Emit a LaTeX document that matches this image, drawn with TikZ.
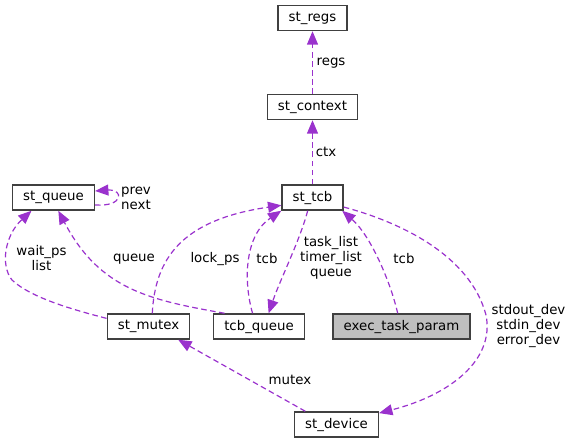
\documentclass[tikz,border=0pt]{standalone}
\usepackage{fontspec}
\setmainfont{DejaVu Sans}
\usepackage{xcolor}
\usetikzlibrary{positioning,arrows.meta}
\definecolor{depcol}{HTML}{9A32CD}
\definecolor{boxline}{HTML}{404040}
\definecolor{boxgray}{HTML}{BFBFBF}
\begin{document}
\begin{tikzpicture}[
  x=0.75pt, y=-0.75pt,
  font=\fontsize{10}{11.25}\selectfont,
  classnode/.style={draw=boxline,line width=1.1pt,fill=white,rectangle,inner xsep=7.9pt,inner ysep=0pt,minimum height=18.75pt},
  dep/.style={draw=depcol,line width=0.9pt,dash pattern=on 4.2pt off 2.6pt,-{Triangle[length=10pt,width=8.2pt]}},
  edgelabel/.style={align=center,inner sep=0pt}
    ]
\useasboundingbox (0,0) rectangle (571,444);

\node[classnode] (regs) at (312.5,18) {st\_regs};
\node[classnode] (context) at (312.5,107) {st\_context};
\node[classnode] (tcb) at (312.5,197.5) {st\_tcb};
\node[classnode] (queue) at (53.5,197.5) {st\_queue};
\node[classnode] (mutex) at (148.5,326.5) {st\_mutex};
\node[classnode] (tcbqueue) at (259,326.5) {tcb\_queue};
\node[classnode,fill=boxgray] (param) at (401.5,326.5) {exec\_task\_param};
\node[classnode] (device) at (336.5,424.5) {st\_device};

\draw[dep] (context) -- (regs);
\draw[dep] (tcb) -- (context);
\draw[dep] ([yshift=-5.6pt]queue.east) .. controls (124,207) and (124,189) .. ([yshift=4.9pt]queue.east);
\draw[dep] (mutex.169) .. controls (70,309) and (30,297) .. (12,280) .. controls (0,265) and (5,235) .. (queue.211);
\draw[dep] (tcbqueue.159) .. controls (150,300) and (100,290) .. (queue.290);
\draw[dep] (mutex.74) .. controls (155,260) and (180,220) .. (tcb.194);
\draw[dep] (tcbqueue.116) .. controls (243,280) and (245,235) .. (tcb.203);
\draw[dep] (tcb.250) .. controls (300,240) and (280,280) .. (tcbqueue.54);
\draw[dep] (param.106) .. controls (390,280) and (370,235) .. (tcb.336);
\draw[dep] (tcb.343) .. controls (400,222) and (470,255) .. (486,315) .. controls (495,360) and (450,395) .. (device.15);
\draw[dep] (device.157) -- (mutex.336);

\node[edgelabel] (l-regs) at (331,63) {regs};
\node[edgelabel] (l-ctx) at (326,152) {ctx};
\node[edgelabel] (l-prevnext) at (136,198) {prev\\next};
\node[edgelabel] (l-waitps) at (41.5,258) {wait\_ps\\list};
\node[edgelabel] (l-queue) at (134,259) {queue};
\node[edgelabel] (l-lockps) at (215,259) {lock\_ps};
\node[edgelabel] (l-tcb) at (267,259) {tcb};
\node[edgelabel] (l-lists) at (331,258) {task\_list\\timer\_list\\queue};
\node[edgelabel] (l-paramtcb) at (404,259) {tcb};
\node[edgelabel] (l-devs) at (528.5,326) {stdout\_dev\\stdin\_dev\\error\_dev};
\node[edgelabel] (l-mutex) at (290,380) {mutex};
\end{tikzpicture}
\end{document}
